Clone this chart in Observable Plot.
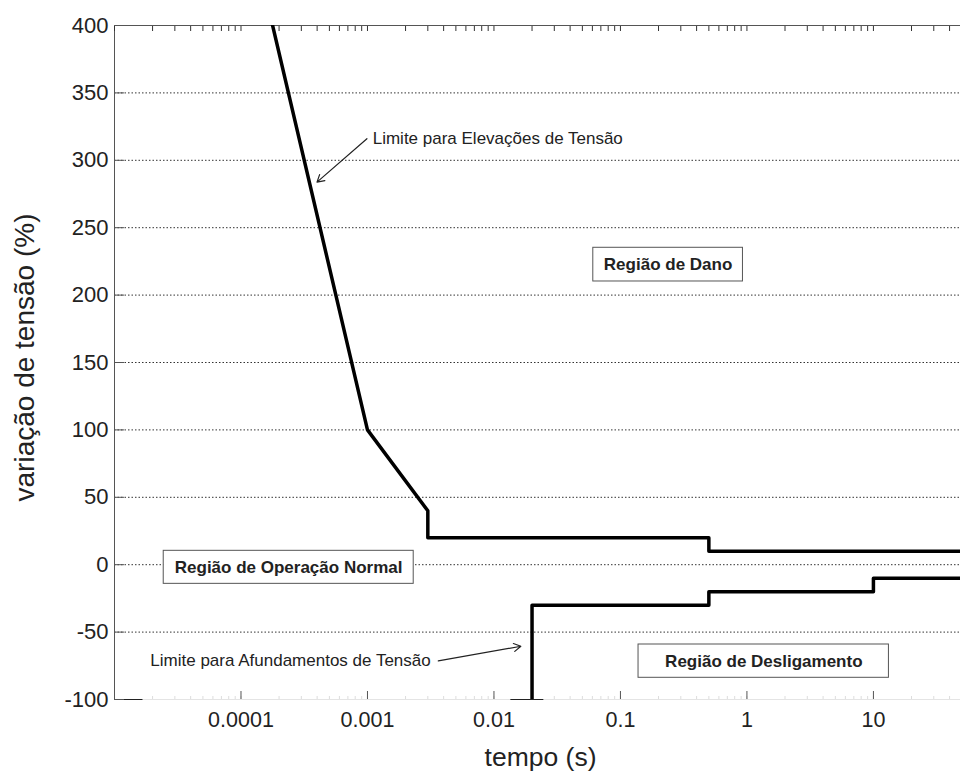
<!DOCTYPE html>
<html><head><meta charset="utf-8">
<script src="https://cdn.jsdelivr.net/npm/d3@7"></script>
<script src="https://cdn.jsdelivr.net/npm/@observablehq/plot@0.6"></script>
<style>body{margin:0;background:#fff}</style>
</head><body><div id="chart"></div>
<script>
const xMin = 0.00001, xMax = 48.8;
const yMin = -100, yMax = 400;
const yTickValues = [-100, -50, 0, 50, 100, 150, 200, 250, 300, 350, 400];
const gridValues = [-50, 0, 50, 100, 150, 200, 250, 300, 350];
const xTickValues = [0.0001, 0.001, 0.01, 0.1, 1, 10];
const xTickLabels = ["0.0001", "0.001", "0.01", "0.1", "1", "10"];

// Limite para Elevações de Tensão (upper curve)
const upperTime = [0.0001, 0.001, 0.003, 0.003, 0.5, 0.5, 100];
const upperDev  = [500, 100, 40, 20, 20, 10, 10];
// Limite para Afundamentos de Tensão (lower curve)
const lowerTime = [0.02, 0.02, 0.5, 0.5, 10, 10, 100];
const lowerDev  = [-100, -30, -30, -20, -20, -10, -10];

// Region labels (boxed)
const regionLabels = ["Região de Dano", "Região de Operação Normal", "Região de Desligamento"];
const regionX  = [0.238, 0.000238, 1.36];
const regionY  = [222.6, -2, -71.6];
const regionX1 = [0.061, 0.0000245, 0.139];
const regionX2 = [0.93, 0.00232, 13.26];
const regionY1 = [210.1, -14.2, -83.9];
const regionY2 = [235.1, 10.3, -59.2];

// Arrow annotations
const arrowLabels = ["Limite para Elevações de Tensão", "Limite para Afundamentos de Tensão"];
const arrowLabelX = [0.0011, 0.0000192];
const arrowLabelY = [316, -70.8];
const arrowX1 = [0.00099, 0.00363];
const arrowY1 = [316, -71.3];
const arrowX2 = [0.000399, 0.01633];
const arrowY2 = [283.8, -60.5];

// visible fragments of the bottom axis line
const axisStubX1 = [0.00001, 0.0136];
const axisStubX2 = [0.0000168, 0.0248];

const upper = upperTime.map((t, i) => ({t, v: upperDev[i]}));
const lower = lowerTime.map((t, i) => ({t, v: lowerDev[i]}));
const regions = regionLabels.map((label, i) => ({label, x: regionX[i], y: regionY[i], x1: regionX1[i], x2: regionX2[i], y1: regionY1[i], y2: regionY2[i]}));
const notes = arrowLabels.map((label, i) => ({label, x: arrowLabelX[i], y: arrowLabelY[i], x1: arrowX1[i], y1: arrowY1[i], x2: arrowX2[i], y2: arrowY2[i]}));
const stubs = axisStubX1.map((x1, i) => ({x1, x2: axisStubX2[i], y: yMin}));
const minorTicks = d3.scaleLog().domain([xMin, xMax]).ticks();

const chart = Plot.plot({
  width: 960,
  height: 771,
  marginLeft: 114,
  marginRight: 0,
  marginTop: 25,
  marginBottom: 72,
  style: {fontFamily: "'Liberation Sans', Arial, sans-serif", background: "#fff", color: "#222"},
  x: {type: "log", domain: [xMin, xMax], axis: null},
  y: {domain: [yMin, yMax], axis: null},
  marks: [
    Plot.gridY(gridValues, {stroke: "#333", strokeOpacity: 1, strokeWidth: 1, strokeDasharray: "1.5,2"}),
    Plot.ruleY([yMin], {stroke: "#e4e4e4"}),
    Plot.axisX({anchor: "bottom", ticks: minorTicks, tickSize: -3, tickFormat: () => "", stroke: "#ddd", label: null}),
    Plot.ruleY(stubs, {x1: "x1", x2: "x2", y: "y", stroke: "#222"}),
    Plot.ruleY([yMax], {stroke: "#555"}),
    Plot.ruleX([xMin], {stroke: "#555"}),
    Plot.axisX({anchor: "top", ticks: minorTicks, tickSize: -5, tickFormat: () => "", stroke: "#333", label: null}),
    Plot.axisX({anchor: "bottom", ticks: xTickValues, tickSize: -8, tickPadding: 20.5,
      tickFormat: d => xTickLabels[xTickValues.indexOf(d)], stroke: "#555", fill: "#222", fontSize: 21.5, label: null}),
    Plot.axisY({anchor: "left", ticks: yTickValues, tickSize: -10, tickPadding: 16,
      tickFormat: d => String(d), stroke: "#555", fill: "#222", fontSize: 22, label: null}),
    Plot.line(upper, {x: "t", y: "v", stroke: "#000", strokeWidth: 3.5, clip: true}),
    Plot.line(lower, {x: "t", y: "v", stroke: "#000", strokeWidth: 3.5, clip: true}),
    Plot.rect(regions, {x1: "x1", x2: "x2", y1: "y1", y2: "y2", fill: "#fff", stroke: "#555", strokeWidth: 1}),
    Plot.text(regions, {x: "x", y: "y", text: "label", fontWeight: "bold", fontSize: 17, fill: "#222"}),
    Plot.text(notes, {x: "x", y: "y", text: "label", textAnchor: "start", fontSize: 17, fill: "#222"}),
    Plot.arrow(notes, {x1: "x1", y1: "y1", x2: "x2", y2: "y2", stroke: "#222", strokeWidth: 1.2, headLength: 10}),
    Plot.text(["tempo (s)"], {frameAnchor: "bottom", lineAnchor: "middle", textAnchor: "middle", dy: 58, dx: 3, fontSize: 26.5, fill: "#222"}),
    Plot.text(["variação de tensão (%)"], {frameAnchor: "left", lineAnchor: "middle", textAnchor: "middle", rotate: -90, dx: -89, dy: -5, fontSize: 28, fill: "#222"})
  ]
});
document.getElementById("chart").appendChild(chart);
</script>
</body></html>
